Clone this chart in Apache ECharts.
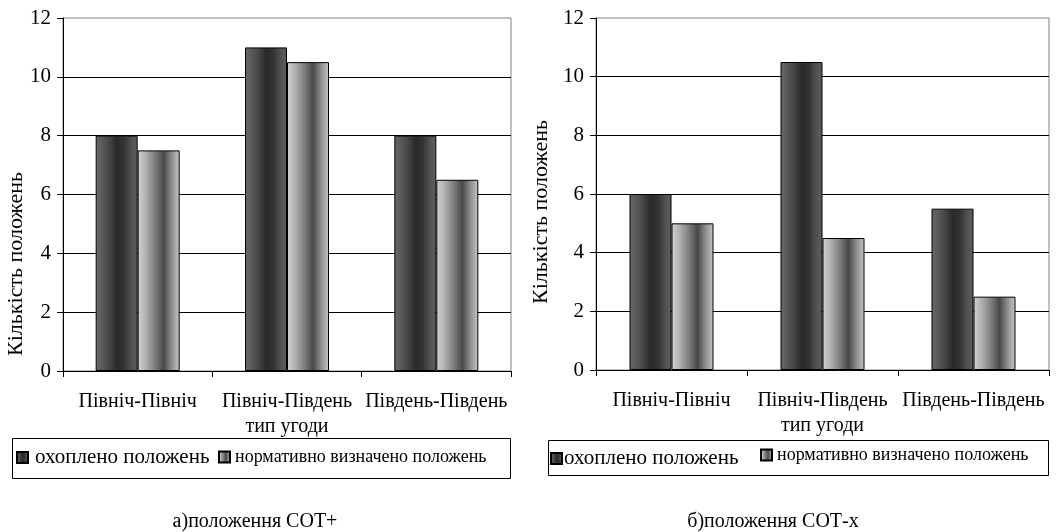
<!DOCTYPE html>
<html>
<head>
<meta charset="utf-8">
<script src="https://cdn.jsdelivr.net/npm/echarts@6/dist/echarts.min.js"></script>
<style>
html,body{margin:0;padding:0;background:#fff;}
#chart{width:1057px;height:532px;}
</style>
</head>
<body>
<div id="chart"></div>
<script>
var categories = ['Північ-Північ', 'Північ-Південь', 'Південь-Південь'];
var seriesNames = ['охоплено положень', 'нормативно визначено положень'];
var coveredA = [8, 11, 8];
var normA = [7.5, 10.5, 6.5];
var coveredB = [6, 10.5, 5.5];
var normB = [5, 4.5, 2.5];
var yTicks = [0, 2, 4, 6, 8, 10, 12];
var axisTitle = 'Кількість положень';
var xTitle = 'тип угоди';
var captionA = 'а)положення СОТ+';
var captionB = 'б)положення СОТ-х';

var FONT = '"Liberation Serif", "Times New Roman", serif';

function grad(stops) {
  return { type: 'linear', x: 0, y: 0, x2: 1, y2: 0,
    colorStops: stops.map(function (s) { return { offset: s[0], color: s[1] }; }) };
}
var darkFill = grad([[0, '#686868'], [0.15, '#5a5a5a'], [0.32, '#464646'], [0.5, '#2a2a2a'], [0.68, '#333'], [0.84, '#505050'], [1, '#606060']]);
var lightFill = grad([[0, '#d2d2d2'], [0.18, '#b4b4b4'], [0.42, '#7c7c7c'], [0.62, '#484848'], [0.8, '#8a8a8a'], [1, '#c8c8c8']]);

function xAxisCfg(gi) {
  return {
    gridIndex: gi, type: 'category', data: categories, boundaryGap: true,
    axisLine: { lineStyle: { color: '#000', width: 1 } },
    axisTick: { show: true, length: 6, lineStyle: { color: '#000' } },
    axisLabel: { color: '#000', fontFamily: FONT, fontSize: 20, margin: 21, interval: 0 },
    name: xTitle, nameLocation: 'middle', nameGap: 46,
    nameTextStyle: { color: '#000', fontFamily: FONT, fontSize: 20 }
  };
}
function yAxisCfg(gi) {
  return {
    gridIndex: gi, type: 'value', min: 0, max: 12, interval: 2,
    axisLine: { show: true, lineStyle: { color: '#000', width: 1 } },
    axisTick: { show: true, length: 6, lineStyle: { color: '#000' } },
    axisLabel: { color: '#000', fontFamily: FONT, fontSize: 21, margin: 12,
      formatter: function (v) { return yTicks.indexOf(v) >= 0 ? String(v) : ''; } },
    splitLine: { show: true, showMaxLine: false, lineStyle: { color: '#000', width: 1 } }
  };
}
function barSeries(name, data, gi, fill) {
  return {
    name: name, type: 'bar', xAxisIndex: gi, yAxisIndex: gi, data: data,
    barWidth: 42, barGap: '0%',
    itemStyle: { color: fill, borderColor: '#000', borderWidth: 1 },
    emphasis: { disabled: true }
  };
}
function legendCfg(name, left, top, size, gap) {
  return {
    data: [name], left: left, top: top, padding: 0, orient: 'horizontal',
    icon: 'rect', itemWidth: 11, itemHeight: 11, itemGap: 0,
    selectedMode: false,
    textStyle: { color: '#000', fontFamily: FONT, fontSize: size, padding: [0, 0, 0, gap] }
  };
}

var chart = echarts.init(document.getElementById('chart'));
chart.setOption({
  animation: false,
  backgroundColor: '#fff',
  grid: [
    { left: 63, top: 18, width: 448, height: 353, show: true, borderColor: '#808080', borderWidth: 1, backgroundColor: 'transparent' },
    { left: 596, top: 18, width: 453, height: 352, show: true, borderColor: '#808080', borderWidth: 1, backgroundColor: 'transparent' }
  ],
  xAxis: [xAxisCfg(0), xAxisCfg(1)],
  yAxis: [yAxisCfg(0), yAxisCfg(1)],
  legend: [
    legendCfg(seriesNames[0], 16, 447, 21, 2),
    legendCfg(seriesNames[1], 218, 448, 18, 0),
    legendCfg(seriesNames[0], 550, 448, 21, -3),
    legendCfg(seriesNames[1], 760, 446, 18, 0)
  ],
  series: [
    barSeries(seriesNames[0], coveredA, 0, darkFill),
    barSeries(seriesNames[1], normA, 0, lightFill),
    barSeries(seriesNames[0], coveredB, 1, darkFill),
    barSeries(seriesNames[1], normB, 1, lightFill)
  ],
  graphic: [
    { type: 'rect', shape: { x: 12.5, y: 438.5, width: 498, height: 40 }, style: { fill: 'none', stroke: '#000', lineWidth: 1 }, z: 0 },
    { type: 'rect', shape: { x: 548.5, y: 440.5, width: 500, height: 35 }, style: { fill: 'none', stroke: '#000', lineWidth: 1 }, z: 0 },
    { type: 'text', x: 16, y: 264, rotation: Math.PI / 2, style: { text: axisTitle, align: 'center', verticalAlign: 'middle', font: '22px ' + FONT, fill: '#000' } },
    { type: 'text', x: 541, y: 212, rotation: Math.PI / 2, style: { text: axisTitle, align: 'center', verticalAlign: 'middle', font: '22px ' + FONT, fill: '#000' } },
    { type: 'text', x: 255, y: 522, style: { text: captionA, align: 'center', verticalAlign: 'middle', font: '20px ' + FONT, fill: '#000' } },
    { type: 'text', x: 773, y: 522, style: { text: captionB, align: 'center', verticalAlign: 'middle', font: '20px ' + FONT, fill: '#000' } }
  ]
});
</script>
</body>
</html>
